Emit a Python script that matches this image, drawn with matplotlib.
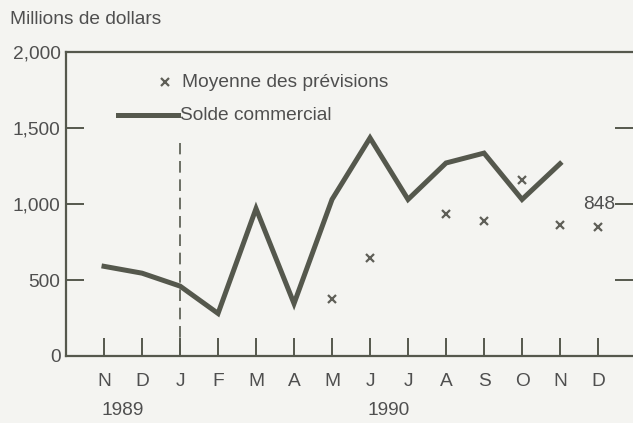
import numpy as np
import matplotlib
matplotlib.use("Agg")
import matplotlib.pyplot as plt
import matplotlib.transforms as mtransforms

# months Nov 1989 .. Dec 1990
months = ["N", "D", "J", "F", "M", "A", "M", "J", "J", "A", "S", "O", "N", "D"]
solde = [590, 545, 460, 280, 970, 345, 1030, 1435, 1030, 1270, 1335, 1030, 1265, np.nan]
prevision = [np.nan, np.nan, np.nan, np.nan, np.nan, np.nan, 375, 645, np.nan,
             935, 888, 1158, 862, 848]
yticks = [0, 500, 1000, 1500, 2000]
ytick_labels = ["0", "500", "1,000", "1,500", "2,000"]
years = ["1989", "1990"]
year_pos = [0.5, 7.5]

INK = "#55584d"
TXT = "#4f4f4f"
BG = "#f4f4f1"
FS = 13.8

plt.rcParams["font.family"] = ["Liberation Sans", "DejaVu Sans"]

fig = plt.figure(figsize=(6.33, 4.23), dpi=100, facecolor=BG)
ax = fig.add_axes([0.1043, 0.1584, 0.8957, 0.7186], facecolor=BG)

x = np.arange(len(months))
ax.plot(x, solde, color=INK, lw=3.6, solid_joinstyle="miter", zorder=3)
ax.plot(x, prevision, ls="none", marker="x", ms=6, mew=1.6, color="#5f5f58", zorder=4)

# dashed separator at January 1990
ax.plot([2, 2], [0, 1400], color=INK, lw=1.2, ls=(0, (7, 4)), zorder=2)

ax.set_xlim(-1, 13.92)
ax.set_ylim(0, 2000)
ax.set_xticks(x)
ax.set_xticklabels(months)
ax.set_yticks(yticks)
ax.set_yticklabels(ytick_labels)

for s in ["left", "bottom", "top"]:
    ax.spines[s].set_color(INK)
    ax.spines[s].set_linewidth(1.6)
ax.spines["right"].set_visible(False)

ax.tick_params(axis="x", direction="in", length=13, width=1.4, color=INK,
               labelsize=FS, labelcolor=TXT, pad=12)
ax.tick_params(axis="y", direction="in", length=13, width=1.4, color=INK,
               labelsize=FS, labelcolor=TXT, pad=4, right=True)

# value label for the last forecast
ax.text(13.45, 1000, "848", ha="right", va="center", fontsize=FS, color=TXT)

# years under the month labels
trans = mtransforms.blended_transform_factory(ax.transData, fig.transFigure)
for yr, xp in zip(years, year_pos):
    ax.text(xp, 1 - 410 / 423, yr, transform=trans, ha="center", va="center",
            fontsize=FS, color=TXT)

# unit label
fig.text(10 / 633, 1 - 20 / 423, "Millions de dollars", ha="left", va="center",
         fontsize=FS, color=TXT)

# hand-placed legend
ax.plot([(165 - 66) / 567], [1 - (82 - 52) / 304], transform=ax.transAxes,
        ls="none", marker="x", ms=6, mew=1.6, color="#5f5f58")
ax.text((182 - 66) / 567, 1 - (82 - 52) / 304, "Moyenne des prévisions",
        transform=ax.transAxes, ha="left", va="center", fontsize=FS, color=TXT)
ax.plot([(118 - 66) / 567, (178 - 66) / 567], [1 - (115 - 52) / 304] * 2,
        transform=ax.transAxes, color=INK, lw=3.6)
ax.text((180 - 66) / 567, 1 - (115 - 52) / 304, "Solde commercial",
        transform=ax.transAxes, ha="left", va="center", fontsize=FS, color=TXT)

fig.savefig("out.png", dpi=100, facecolor=BG)
